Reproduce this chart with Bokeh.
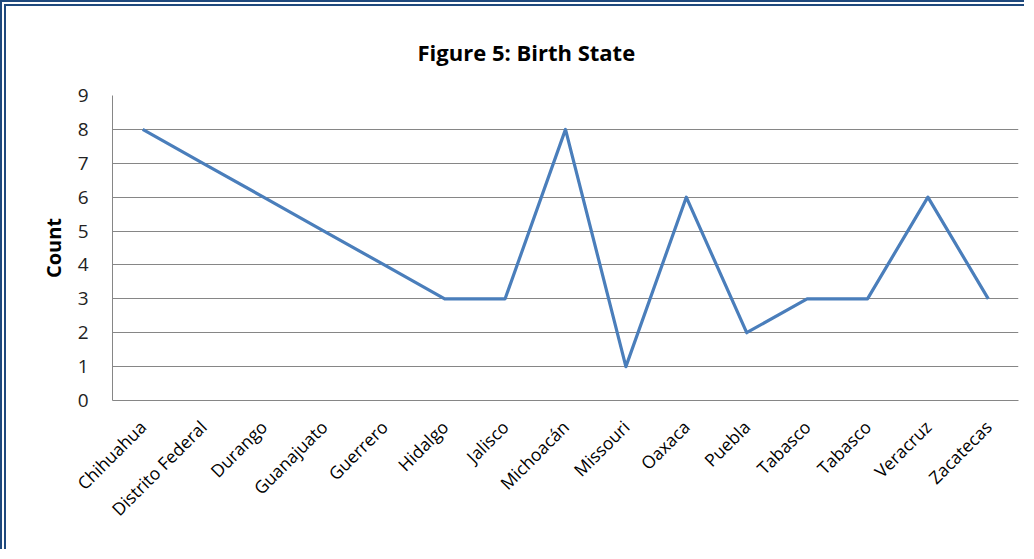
import math
from bokeh.plotting import figure
from bokeh.models import FixedTicker, Range1d, ColumnDataSource
from bokeh.embed import file_html
from bokeh.resources import INLINE

states = ["Chihuahua", "Distrito Federal", "Durango", "Guanajuato", "Guerrero",
          "Hidalgo", "Jalisco", "Michoacán", "Missouri", "Oaxaca", "Puebla",
          "Tabasco", "Tabasco", "Veracruz", "Zacatecas"]
counts = [8, 7, 6, 5, 4, 3, 3, 8, 1, 6, 2, 3, 3, 6, 3]
y_ticks = [0, 1, 2, 3, 4, 5, 6, 7, 8, 9]

xs = list(range(len(states)))
src = ColumnDataSource(dict(x=xs, y=counts))

FONT = "Open Sans"

p = figure(width=1024, height=549, output_backend="svg", toolbar_location=None,
           x_range=Range1d(-0.5, len(states) - 0.5), y_range=Range1d(0, 9),
           min_border_left=106, min_border_right=12, min_border_top=88,
           min_border_bottom=155)
p.styles = {"border-left": "6px double #1F497D", "border-top": "6px double #1F497D"}

p.title.text = "Figure 5: Birth State"
p.title.align = "left"
p.title.text_font = FONT
p.title.text_font_size = "22px"
p.title.text_font_style = "bold"
p.title.text_color = "#000000"
p.title.offset = 305
p.title.standoff = 57

p.line("x", "y", source=src, line_color="#4A7EBB", line_width=3.2, line_join="round")

p.outline_line_color = None
p.background_fill_color = "white"
p.border_fill_color = "white"

# X axis
p.xaxis.ticker = FixedTicker(ticks=xs)
p.xaxis.major_label_overrides = {i: s for i, s in enumerate(states)}
p.xaxis.major_label_orientation = math.pi / 4
p.xaxis.major_label_text_font = FONT
p.xaxis.major_label_text_font_size = "17.5px"
p.xaxis.major_label_text_color = "#000000"
p.xaxis.major_label_standoff = 17
p.xaxis.major_tick_line_color = None
p.xaxis.minor_tick_line_color = None
p.xaxis.axis_line_color = "#868686"
p.xgrid.grid_line_color = None

# Y axis
p.yaxis.ticker = FixedTicker(ticks=y_ticks)
p.yaxis.major_label_text_font = FONT
p.yaxis.major_label_text_font_size = "19px"
p.yaxis.major_label_text_color = "#222222"
p.yaxis.major_label_standoff = 18
p.yaxis.major_tick_line_color = None
p.yaxis.minor_tick_line_color = None
p.yaxis.axis_line_color = "#868686"
p.yaxis.axis_label = "Count"
p.yaxis.axis_label_text_font = FONT
p.yaxis.axis_label_text_font_size = "20px"
p.yaxis.axis_label_text_font_style = "bold"
p.yaxis.axis_label_text_color = "#000000"
p.yaxis.axis_label_standoff = 8
p.ygrid.grid_line_color = "#868686"
p.ygrid.grid_line_width = 1

open("out.html", "w").write(file_html(p, INLINE))
